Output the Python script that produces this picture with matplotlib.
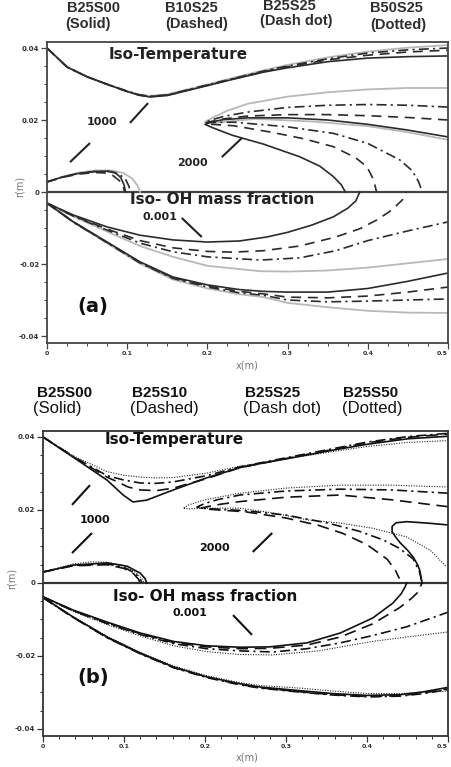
import matplotlib
matplotlib.use("Agg")
import matplotlib.pyplot as plt
from matplotlib.ticker import MultipleLocator, FixedLocator

W, H = 451, 767

# ================= panel (a) =================
a_names = ["B25S00", "B10S25", "B25S25", "B50S25"]
a_kinds = ["(Solid)", "(Dashed)", "(Dash dot)", "(Dotted)"]

# iso-temperature 1000 K, outer contour (x shared by the four cases)
a_t1000_x = [0, .025, .05, .075, .1, .115, .128, .15, .19, .23, .27, .3, .35, .4, .45, .5]
a_t1000 = {
    "solid":   [.0400, .0347, .0320, .0299, .0279, .0269, .0264, .0268, .0290, .0312, .0333, .0345, .0362, .0372, .0376, .0378],
    "dashed":  [.0400, .0347, .0320, .0299, .0279, .0269, .0265, .0269, .0291, .0313, .0334, .0348, .0367, .0380, .0389, .0394],
    "dashdot": [.0400, .0347, .0320, .0299, .0280, .0270, .0266, .0270, .0292, .0314, .0336, .0350, .0370, .0386, .0395, .0400],
    "dotted":  [.0400, .0348, .0321, .0300, .0281, .0271, .0267, .0271, .0293, .0316, .0338, .0353, .0374, .0390, .0401, .0408],
}
# iso-temperature 1000 K, small lobe near the axis
a_blob = {
    "solid":   ([0, .02, .04, .06, .075, .085, .092, .096, .098], [.0028, .0042, .0052, .0057, .0058, .0054, .0040, .0020, 0]),
    "dashed":  ([0, .02, .04, .06, .072, .082, .090, .095, .097], [.0028, .0041, .0050, .0054, .0053, .0046, .0032, .0015, 0]),
    "dashdot": ([0, .02, .04, .06, .078, .090, .098, .102, .104], [.0028, .0042, .0052, .0057, .0057, .0050, .0035, .0017, 0]),
    "dotted":  ([0, .02, .04, .06, .08, .095, .106, .113, .116], [.0028, .0043, .0054, .0060, .0060, .0053, .0038, .0018, 0]),
}
# iso-temperature 2000 K
a_t2000 = {
    "solid": ([.5, .45, .4, .35, .3, .25, .22, .205, .197, .205, .22, .232, .27, .315, .34, .357, .367, .372],
              [.0153, .0172, .0188, .0200, .0206, .0206, .0201, .0195, .0188, .0180, .0167, .0157, .0133, .0098, .0072, .0043, .0020, 0]),
    "dashed": ([.5, .45, .4, .35, .3, .25, .22, .205, .197, .205, .233, .28, .32, .357, .385, .399, .407, .411],
               [.0200, .0207, .0212, .0215, .0215, .0211, .0203, .0196, .0191, .0188, .0184, .0166, .0148, .0126, .0095, .0070, .0035, 0]),
    "dashdot": ([.5, .45, .4, .35, .3, .25, .22, .205, .197, .205, .233, .3, .357, .4, .44, .455, .463, .468],
                [.0236, .0241, .0243, .0241, .0235, .0222, .0210, .0200, .0193, .0193, .0194, .0181, .0163, .0135, .0089, .0060, .0030, 0]),
    "dotted": ([.5, .45, .4, .35, .3, .25, .224, .205, .197, .205, .26, .33, .4, .45, .5],
               [.0289, .0289, .0285, .0277, .0265, .0245, .0225, .0205, .0195, .0192, .0203, .0196, .0183, .0166, .0145]),
}
# iso-OH mass fraction 0.001, inner contour
a_oh_in = {
    "solid": ([0, .033, .075, .116, .157, .2, .24, .274, .3, .33, .357, .375, .385, .39],
              [-.0031, -.0064, -.0097, -.0120, -.0133, -.0139, -.0136, -.0125, -.0112, -.0092, -.0069, -.0045, -.0025, 0]),
    "dashed": ([0, .033, .075, .116, .157, .2, .232, .27, .315, .36, .39, .411, .43, .443, .448],
               [-.0031, -.0066, -.0103, -.0135, -.0155, -.0165, -.0167, -.0163, -.0150, -.0125, -.0102, -.0078, -.0050, -.0022, 0]),
    "dashdot": ([0, .033, .075, .116, .157, .2, .266, .315, .36, .4, .45, .5],
                [-.0031, -.0067, -.0106, -.0142, -.0166, -.0180, -.0189, -.0183, -.0163, -.0135, -.0108, -.0083]),
    "dotted": ([0, .033, .075, .116, .157, .2, .266, .3, .35, .4, .45, .5],
               [-.0031, -.0068, -.0110, -.0150, -.0180, -.0205, -.0220, -.0221, -.0218, -.0210, -.0198, -.0186]),
}
# iso-OH mass fraction 0.001, outer contour (x shared)
a_oh_out_x = [0, .033, .075, .116, .157, .2, .24, .27, .3, .35, .4, .45, .5]
a_oh_out = {
    "solid":   [-.0031, -.0083, -.0139, -.0194, -.0236, -.0258, -.0271, -.0276, -.0278, -.0278, -.0268, -.0248, -.0225],
    "dashed":  [-.0031, -.0083, -.0140, -.0196, -.0238, -.0261, -.0276, -.0283, -.0292, -.0294, -.0289, -.0278, -.0264],
    "dashdot": [-.0031, -.0084, -.0141, -.0197, -.0240, -.0264, -.0280, -.0287, -.0300, -.0305, -.0303, -.0300, -.0297],
    "dotted":  [-.0031, -.0084, -.0142, -.0199, -.0243, -.0268, -.0284, -.0292, -.0308, -.0320, -.0330, -.0335, -.0336],
}

# ================= panel (b) =================
b_names = ["B25S00", "B25S10", "B25S25", "B25S50"]
b_kinds = ["(Solid)", "(Dashed)", "(Dash dot)", "(Dotted)"]

b_t1000 = {
    "solid": ([0, .037, .079, .099, .111, .128, .161, .202, .243, .268, .3, .358, .4, .45, .5],
              [.0400, .0345, .0282, .0241, .0222, .0227, .0255, .0288, .0316, .0327, .0340, .0364, .0380, .0395, .0402]),
    "dashed": ([0, .037, .079, .091, .105, .12, .14, .161, .202, .243, .3, .358, .4, .45, .5],
               [.0400, .0346, .0290, .0278, .0263, .0255, .0253, .0260, .0286, .0316, .0341, .0366, .0384, .0399, .0408]),
    "dashdot": ([0, .037, .079, .1, .12, .14, .161, .202, .243, .3, .358, .4, .45, .5],
                [.0400, .0347, .0294, .0282, .0274, .0273, .0277, .0294, .0318, .0343, .0368, .0386, .0401, .0410]),
    "dotted": ([0, .037, .079, .1, .12, .14, .161, .202, .243, .3, .358, .4, .45, .5],
               [.0400, .0349, .0305, .0295, .0290, .0288, .0289, .0301, .0320, .0340, .0360, .0374, .0385, .0390]),
}
b_blob = {
    "solid":   ([0, .037, .079, .104, .12, .126, .128], [.0030, .0049, .0055, .0046, .0027, .0012, 0]),
    "dashed":  ([0, .037, .079, .1, .112, .118, .12], [.0030, .0047, .0050, .0040, .0025, .0010, 0]),
    "dashdot": ([0, .037, .079, .1, .114, .12, .122], [.0030, .0048, .0052, .0043, .0026, .0011, 0]),
    "dotted":  ([0, .037, .06, .079, .1, .115, .122, .125], [.0030, .0052, .0058, .0057, .0048, .0028, .0012, 0]),
}
b_t2000 = {
    "solid": ([.5, .475, .449, .436, .431, .431, .436, .441, .45, .457, .462, .465, .468],
              [.0159, .0164, .0168, .0165, .0155, .0140, .0124, .0110, .0090, .0071, .0052, .0036, 0]),
    "dashed": ([.5, .43, .367, .3, .243, .22, .205, .195, .205, .25, .3, .34, .37, .4, .425, .435, .44],
               [.0209, .0228, .0241, .0235, .0223, .0216, .0210, .0205, .0202, .0195, .0178, .0158, .0136, .0105, .0065, .0035, .0012]),
    "dashdot": ([.5, .43, .367, .3, .243, .215, .2, .19, .2, .25, .3, .35, .39, .42, .44, .457, .465, .468],
                [.0246, .0255, .0257, .0252, .0241, .0228, .0218, .0208, .0204, .0198, .0186, .0165, .0142, .0118, .0095, .0066, .0030, 0]),
    "dotted": ([.5, .43, .367, .3, .243, .2, .18, .173, .18, .2, .243, .284, .326, .367, .407, .449, .478, .498],
               [.0263, .0268, .0268, .0260, .0246, .0228, .0214, .0205, .0203, .0205, .0205, .0192, .0173, .0164, .0150, .0126, .0090, .0044]),
}
b_oh_in = {
    "solid": ([0, .037, .079, .12, .161, .202, .243, .28, .326, .367, .407, .432, .442, .447, .449],
              [-.0038, -.0074, -.0107, -.0137, -.0160, -.0172, -.0176, -.0175, -.0164, -.0137, -.0096, -.0055, -.0030, -.0011, 0]),
    "dashed": ([0, .037, .079, .12, .161, .202, .243, .28, .326, .367, .407, .44, .455, .462, .468],
               [-.0038, -.0075, -.0109, -.0139, -.0163, -.0175, -.0180, -.0179, -.0170, -.0148, -.0112, -.0068, -.0042, -.0027, 0]),
    "dashdot": ([0, .037, .079, .12, .161, .202, .243, .284, .326, .367, .407, .449, .5],
                [-.0038, -.0076, -.0111, -.0141, -.0166, -.0180, -.0186, -.0189, -.0180, -.0164, -.0144, -.0120, -.0080]),
    "dotted": ([0, .037, .079, .12, .161, .202, .243, .284, .34, .407, .449, .5],
               [-.0038, -.0078, -.0114, -.0145, -.0172, -.0188, -.0196, -.0197, -.0186, -.0160, -.0148, -.0134]),
}
b_oh_out_x = [0, .037, .079, .12, .161, .202, .243, .268, .317, .358, .4, .441, .47, .5]
b_oh_out = {
    "solid":   [-.0040, -.0093, -.0148, -.0192, -.0230, -.0257, -.0276, -.0285, -.0295, -.0303, -.0308, -.0306, -.0298, -.0286],
    "dashed":  [-.0040, -.0094, -.0149, -.0193, -.0231, -.0258, -.0278, -.0287, -.0298, -.0306, -.0311, -.0309, -.0301, -.0290],
    "dashdot": [-.0040, -.0094, -.0150, -.0194, -.0232, -.0259, -.0279, -.0288, -.0299, -.0307, -.0312, -.0310, -.0303, -.0292],
    "dotted":  [-.0040, -.0092, -.0146, -.0190, -.0227, -.0254, -.0273, -.0281, -.0288, -.0296, -.0303, -.0303, -.0299, -.0296],
}

# ---------- line styles ----------
style_a = {
    "solid":   dict(color="#2b2b2b", lw=1.2, ls="-"),
    "dashed":  dict(color="#2b2b2b", lw=1.2, ls=(0, (6, 4))),
    "dashdot": dict(color="#2b2b2b", lw=1.2, ls=(0, (6, 2.5, 1.3, 2.5))),
    "dotted":  dict(color="#b8b8b8", lw=1.3, ls="-"),
}
style_b = {
    "solid":   dict(color="#111111", lw=1.2, ls="-"),
    "dashed":  dict(color="#111111", lw=1.2, ls=(0, (7, 4))),
    "dashdot": dict(color="#111111", lw=1.2, ls=(0, (6, 2.5, 1.3, 2.5))),
    "dotted":  dict(color="#222222", lw=0.8, ls=(0, (1, 1.3))),
}
ORDER = ["dotted", "dashdot", "dashed", "solid"]

fig = plt.figure(figsize=(W / 100, H / 100), dpi=100)
fig.patch.set_facecolor("white")


def fx(px):
    return px / W


def fy(py):
    return 1 - py / H


def make_axes(left, right, top, bottom, ylo, yhi, xminor, spine_col):
    ax = fig.add_axes([fx(left), fy(bottom), fx(right) - fx(left), fy(top) - fy(bottom)])
    ax.set_xlim(0, 0.5)
    ax.set_ylim(ylo, yhi)
    ax.xaxis.set_major_locator(FixedLocator([0, .1, .2, .3, .4, .5]))
    ax.xaxis.set_minor_locator(MultipleLocator(xminor))
    ax.yaxis.set_major_locator(FixedLocator([-.04, -.02, 0, .02, .04]))
    ax.yaxis.set_minor_locator(MultipleLocator(0.005))
    ax.set_xticklabels(["0", "0.1", "0.2", "0.3", "0.4", "0.5"])
    ax.set_yticklabels(["-0.04", "-0.02", "0", "0.02", "0.04"])
    ax.tick_params(which="major", direction="out", length=4, width=0.9, color=spine_col, pad=1.5)
    ax.tick_params(which="minor", direction="out", length=2.5, width=0.7, color=spine_col)
    ax.tick_params(axis="x", labelsize=4.5, labelcolor="#333333")
    ax.tick_params(axis="y", labelsize=5, labelcolor="#333333")
    for lab in ax.get_xticklabels() + ax.get_yticklabels():
        lab.set_fontweight("bold")
    # the last x label sits against the figure edge
    ax.get_xticklabels()[-1].set_horizontalalignment("right")
    for s in ax.spines.values():
        s.set_color(spine_col)
        s.set_linewidth(1.3)
    ax.axhline(0, color=spine_col, lw=1.6, zorder=1)
    return ax


def draw_panel(ax, styles, t1000, blob, t2000, oh_in, oh_out, t1000_x=None, oh_out_x=None):
    for k in ORDER:
        st = styles[k]
        if t1000_x is not None:
            ax.plot(t1000_x, t1000[k], **st)
        else:
            ax.plot(*t1000[k], **st)
        ax.plot(*blob[k], **st)
        ax.plot(*t2000[k], **st)
        ax.plot(*oh_in[k], **st)
        ax.plot(oh_out_x, oh_out[k], **st)


label_font = "DejaVu Sans"
head_font = "Liberation Sans"

# ---------- panel (a) ----------
axa = make_axes(47, 448, 42, 343, -0.04194, 0.04167, 0.025, "#444444")
draw_panel(axa, style_a, a_t1000, a_blob, a_t2000, a_oh_in, a_oh_out,
           t1000_x=a_t1000_x, oh_out_x=a_oh_out_x)

tc = "#222222"
axa.text(0.163, 0.0381, "Iso-Temperature", family=label_font, weight="bold", fontsize=11, color=tc, ha="center", va="center")
axa.text(0.218, -0.0022, "Iso- OH mass fraction", family=label_font, weight="bold", fontsize=11, color=tc, ha="center", va="center")
axa.text(0.141, -0.0069, "0.001", family=label_font, weight="bold", fontsize=8, color=tc, ha="center", va="center")
axa.text(0.0686, 0.0194, "1000", family=label_font, weight="bold", fontsize=8, color=tc, ha="center", va="center")
axa.text(0.181, 0.0081, "2000", family=label_font, weight="bold", fontsize=8, color=tc, ha="center", va="center")
axa.text(0.057, -0.0319, "(a)", family=label_font, weight="bold", fontsize=14, color="#111111", ha="center", va="center")
# pointer strokes
for (x0, y0, x1, y1) in [(0.1035, 0.0192, 0.126, 0.0247), (0.0287, 0.0083, 0.0536, 0.0136),
                         (0.218, 0.0097, 0.243, 0.0150), (0.168, -0.0072, 0.193, -0.0125)]:
    axa.plot([x0, x1], [y0, y1], color="#222222", lw=1.5, solid_capstyle="butt")

a_left1 = [67, 165, 263, 370]
a_left2 = [65, 165, 260, 370]
a_row1 = [8.5, 8.5, 6, 8.5]
a_row2 = [24, 24, 21.5, 24.5]
for i in range(4):
    fig.text(fx(a_left1[i]), fy(a_row1[i]), a_names[i], family=head_font, weight="bold",
             fontsize=10.5, color="#2e2e2e", ha="left", va="center")
    fig.text(fx(a_left2[i]), fy(a_row2[i]), a_kinds[i], family=head_font, weight="bold",
             fontsize=10.5, color="#2e2e2e", ha="left", va="center")
fig.text(fx(247), fy(366), "x(m)", family=label_font, fontsize=7, color="#777777", ha="center", va="center")
fig.text(fx(20), fy(186), "r(m)", family=label_font, fontsize=7, color="#777777", ha="center", va="center", rotation=90)

# ---------- panel (b) ----------
axb = make_axes(43, 448, 431, 736, -0.04192, 0.04164, 0.02, "#333333")
draw_panel(axb, style_b, b_t1000, b_blob, b_t2000, b_oh_in, b_oh_out, oh_out_x=b_oh_out_x)

axb.text(0.162, 0.0392, "Iso-Temperature", family=label_font, weight="bold", fontsize=11, color="#111111", ha="center", va="center")
axb.text(0.200, -0.0038, "Iso- OH mass fraction", family=label_font, weight="bold", fontsize=11, color="#111111", ha="center", va="center")
axb.text(0.181, -0.0082, "0.001", family=label_font, weight="bold", fontsize=8, color="#111111", ha="center", va="center")
axb.text(0.064, 0.0173, "1000", family=label_font, weight="bold", fontsize=8, color="#111111", ha="center", va="center")
axb.text(0.212, 0.0096, "2000", family=label_font, weight="bold", fontsize=8, color="#111111", ha="center", va="center")
axb.text(0.0617, -0.0258, "(b)", family=label_font, weight="bold", fontsize=14, color="#111111", ha="center", va="center")
for (x0, y0, x1, y1) in [(0.0358, 0.0214, 0.058, 0.0268), (0.0358, 0.0082, 0.0605, 0.0137),
                         (0.259, 0.0085, 0.283, 0.0137), (0.2346, -0.0088, 0.258, -0.0142)]:
    axb.plot([x0, x1], [y0, y1], color="#111111", lw=1.5, solid_capstyle="butt")

b_left1 = [37, 132, 245, 343]
b_left2 = [33, 130, 243, 342]
for i in range(4):
    fig.text(fx(b_left1[i]), fy(393), b_names[i], family=head_font, weight="bold",
             fontsize=11, color="#111111", ha="left", va="center")
    fig.text(fx(b_left2[i]), fy(409), b_kinds[i], family=head_font,
             fontsize=12, color="#111111", ha="left", va="center")
fig.text(fx(247), fy(758), "x(m)", family=label_font, fontsize=7, color="#777777", ha="center", va="center")
fig.text(fx(12), fy(578), "r(m)", family=label_font, fontsize=7, color="#777777", ha="center", va="center", rotation=90)

fig.savefig("out.png", dpi=100, facecolor="white")
